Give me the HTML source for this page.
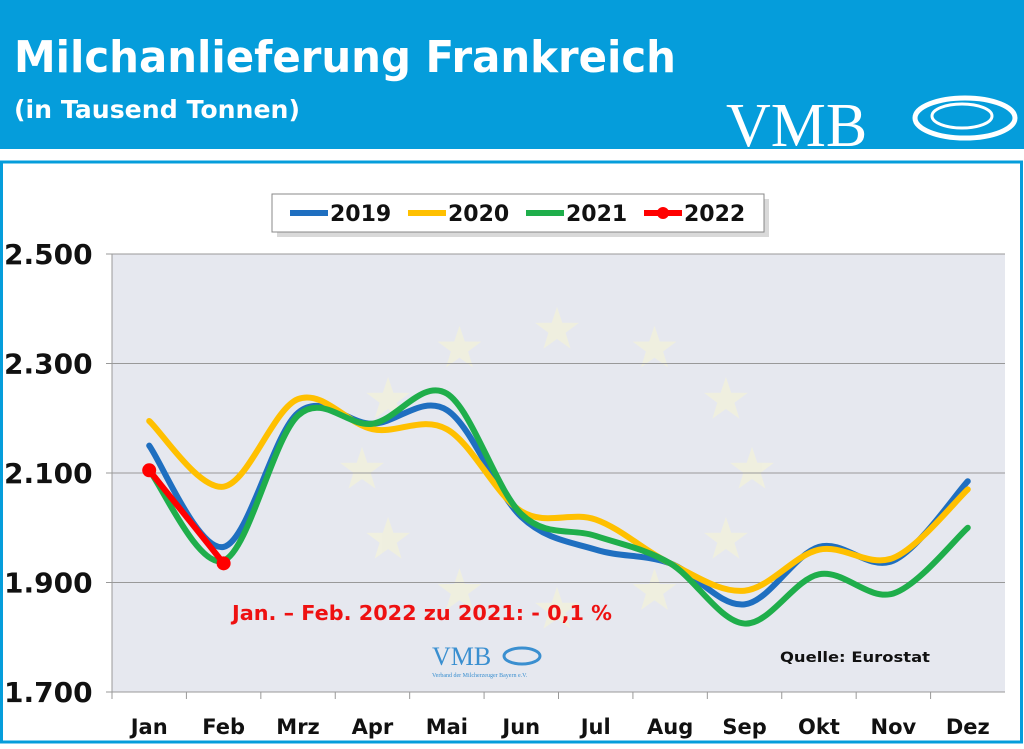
<!DOCTYPE html>
<html><head><meta charset="utf-8"><style>
body{margin:0;width:1024px;height:744px;overflow:hidden;background:#fff;font-family:"Liberation Sans","DejaVu Sans",sans-serif}
</style></head><body>
<svg width="1024" height="744" xmlns="http://www.w3.org/2000/svg" id="c">
<rect x="0" y="0" width="1024" height="149" fill="#059ddb"/>
<text x="14" y="72" font-size="44" font-weight="bold" fill="#fff" font-family="DejaVu Sans, sans-serif" textLength="662" lengthAdjust="spacingAndGlyphs">Milchanlieferung Frankreich</text>
<text x="14" y="118" font-size="25" font-weight="bold" fill="#fff" font-family="DejaVu Sans, sans-serif" textLength="286" lengthAdjust="spacingAndGlyphs">(in Tausend Tonnen)</text>
<g>
<text x="726" y="146" font-size="62" fill="#fff" font-family="Liberation Serif, serif">VMB</text>
<ellipse cx="965" cy="118" rx="50" ry="20" fill="none" stroke="#fff" stroke-width="5"/>
<ellipse cx="962" cy="116" rx="30" ry="12" fill="none" stroke="#fff" stroke-width="3"/>
</g>
<rect x="1.5" y="162" width="1020" height="580" fill="#fff" stroke="#059ddb" stroke-width="3"/>
<rect x="112" y="254" width="893" height="438" fill="#e6e8ef"/>
<g id="stars" fill="#f2f1dc" opacity="0.8"></g>
<g id="grid"></g><g id="series"></g><g id="axes"></g>
<g>
<rect x="274" y="196" width="492" height="38" fill="#000" opacity="0.15" transform="translate(3,3)"/>
<rect x="272" y="194" width="492" height="38" fill="#fff" stroke="#888"/>
<g id="legend"></g>
</g>
<text x="232" y="620" font-size="20" font-weight="bold" fill="#ee1111" font-family="DejaVu Sans, sans-serif" textLength="380" lengthAdjust="spacingAndGlyphs">Jan. – Feb. 2022 zu 2021:  - 0,1 %</text>
<text x="780" y="662" font-size="14" font-weight="bold" fill="#111" font-family="DejaVu Sans, sans-serif" textLength="150" lengthAdjust="spacingAndGlyphs">Quelle: Eurostat</text>
<g>
<text x="432" y="665" font-size="26" fill="#3a8fd0" font-family="Liberation Serif, serif">VMB</text>
<ellipse cx="522" cy="656" rx="18" ry="8" fill="none" stroke="#3a8fd0" stroke-width="3"/>
<text x="432" y="677" font-size="6" fill="#3a8fd0" font-family="Liberation Serif, serif">Verband der Milcherzeuger Bayern e.V.</text>
</g>
</svg>
<script>
const months=["Jan","Feb","Mrz","Apr","Mai","Jun","Jul","Aug","Sep","Okt","Nov","Dez"];
const yTicks=[1700,1900,2100,2300,2500];
const yTickLabels=["1.700","1.900","2.100","2.300","2.500"];
const s2019=[2150,1965,2210,2190,2215,2020,1960,1935,1860,1965,1940,2085];
const s2020=[2195,2075,2235,2180,2180,2030,2015,1935,1885,1960,1945,2070];
const s2021=[2105,1940,2205,2190,2245,2025,1985,1935,1825,1915,1880,2000];
const s2022=[2105,1935];
const seriesNames=["2019","2020","2021","2022"];
const NS="http://www.w3.org/2000/svg";
const X0=112,X1=1005,Y0=692,Y1=254,YMIN=1700,YMAX=2500;
const bw=(X1-X0)/months.length;
const x=i=>X0+bw*(i+0.5);
const y=v=>Y0-(v-YMIN)/(YMAX-YMIN)*(Y0-Y1);
function mk(t,a,p){const e=document.createElementNS(NS,t);for(const k in a)e.setAttribute(k,a[k]);(p||document.getElementById('c')).appendChild(e);return e;}
const st=document.getElementById('stars');
for(let k=0;k<12;k++){const a=k*Math.PI/6,cx=557+195*Math.sin(a),cy=470-140*Math.cos(a);let d="";
for(let j=0;j<10;j++){const r=j%2?9:23,b=j*Math.PI/5;d+=(j?"L":"M")+(cx+r*Math.sin(b)).toFixed(1)+","+(cy-r*Math.cos(b)).toFixed(1);}
const p=mk('path',{d:d+"Z"},st);}
const g=document.getElementById('grid'),ax=document.getElementById('axes');
yTicks.forEach((v,i)=>{
 if(i>0){const l=mk('line',{x1:X0,x2:X1,y1:y(v),y2:y(v),stroke:"#999","stroke-width":1},g);}
 const t=mk('text',{x:4,y:y(v)+10,"font-size":28,"font-weight":"bold",fill:"#111","font-family":"DejaVu Sans, sans-serif"},ax);t.textContent=yTickLabels[i];
 
 mk('line',{x1:X0-6,x2:X0,y1:y(v),y2:y(v),stroke:"#999"},ax);
});
mk('line',{x1:X0,x2:X0,y1:Y1,y2:Y0,stroke:"#999"},ax);
mk('line',{x1:X0,x2:X1,y1:Y0,y2:Y0,stroke:"#999"},ax);
months.forEach((m,i)=>{mk('line',{x1:X0+bw*i,x2:X0+bw*i,y1:Y0,y2:Y0+7,stroke:"#999"},ax);
 const t=mk('text',{x:x(i),y:Y0+42,"font-size":21,"font-weight":"bold","text-anchor":"middle",fill:"#111","font-family":"DejaVu Sans, sans-serif"},ax);t.textContent=m;
 });
function path(vals){const p=vals.map((v,i)=>[x(i),y(v)]);let d="M"+p[0];
 for(let i=0;i<p.length-1;i++){const a=p[i-1]||p[i],b=p[i],c=p[i+1],e=p[i+2]||c;
 d+=" C"+(b[0]+(c[0]-a[0])/6)+","+(b[1]+(c[1]-a[1])/6)+" "+(c[0]-(e[0]-b[0])/6)+","+(c[1]-(e[1]-b[1])/6)+" "+c;}return d;}
const sg=document.getElementById('series');
const cfg=[[s2019,"#1f6fc0","line-2019"],[s2020,"#ffc000","line-2020"],[s2021,"#1fae4b","line-2021"]];
cfg.forEach(c=>{const p=mk('path',{d:path(c[0]),fill:"none",stroke:c[1],"stroke-width":6,"stroke-linecap":"round"},sg);
 });
const p22=mk('path',{d:"M"+s2022.map((v,i)=>x(i)+","+y(v)).join(" L"),fill:"none",stroke:"#f00","stroke-width":6},sg);

s2022.forEach((v,i)=>{const c=mk('circle',{cx:x(i),cy:y(v),r:7,fill:"#f00"},sg);});
const lg=document.getElementById('legend');const cols=["#1f6fc0","#ffc000","#1fae4b","#f00"];
seriesNames.forEach((n,i)=>{const lx=290+i*118;
 mk('line',{x1:lx,x2:lx+38,y1:213,y2:213,stroke:cols[i],"stroke-width":6},lg);
 if(i==3){mk('circle',{cx:lx+19,cy:213,r:6,fill:"#f00"},lg);}
 const t=mk('text',{x:lx+40,y:221,"font-size":22,"font-weight":"bold",fill:"#111","font-family":"DejaVu Sans, sans-serif"},lg);t.textContent=n;
 });
</script>
</body></html>
